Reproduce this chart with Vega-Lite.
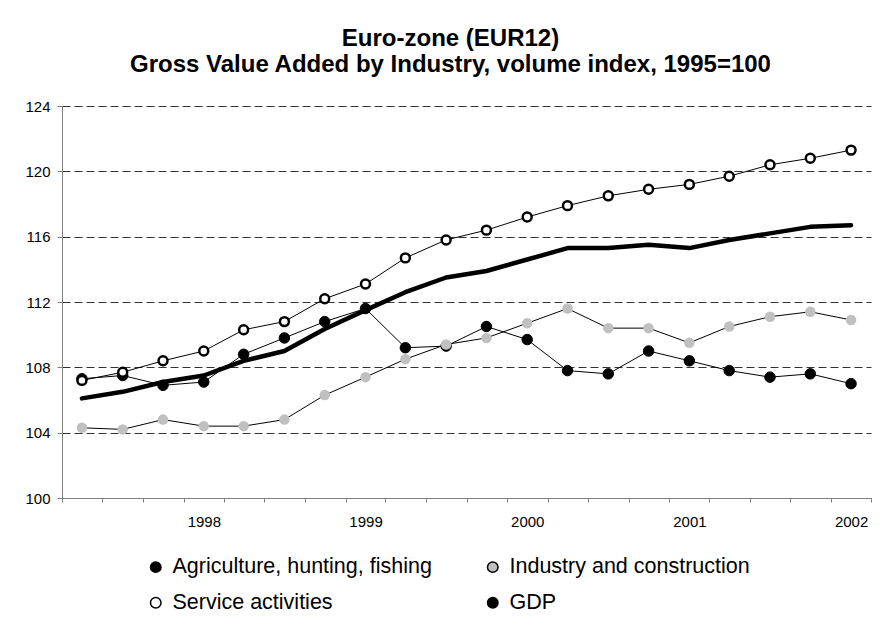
{
  "$schema": "https://vega.github.io/schema/vega-lite/v6.json",
  "width": 809,
  "height": 392,
  "autosize": {"type": "none"},
  "padding": {"left": 62, "top": 106, "right": 21, "bottom": 129},
  "background": "white",
  "config": {"view": {"stroke": null}},
  "title": {
    "text": ["Euro-zone (EUR12)", "Gross Value Added by Industry, volume index, 1995=100"],
    "font": "Liberation Sans", "fontSize": 24, "fontWeight": "bold", "color": "black",
    "lineHeight": 26, "offset": 22, "dx": -16, "anchor": "middle"
  },
  "data": {"values": [
      {"d": "1997-05-16", "s": "Agriculture, hunting, fishing", "v": 107.3},
      {"d": "1997-08-16", "s": "Agriculture, hunting, fishing", "v": 107.5},
      {"d": "1997-11-15", "s": "Agriculture, hunting, fishing", "v": 106.9},
      {"d": "1998-02-15", "s": "Agriculture, hunting, fishing", "v": 107.1},
      {"d": "1998-05-16", "s": "Agriculture, hunting, fishing", "v": 108.8},
      {"d": "1998-08-16", "s": "Agriculture, hunting, fishing", "v": 109.8},
      {"d": "1998-11-15", "s": "Agriculture, hunting, fishing", "v": 110.8},
      {"d": "1999-02-15", "s": "Agriculture, hunting, fishing", "v": 111.6},
      {"d": "1999-05-16", "s": "Agriculture, hunting, fishing", "v": 109.2},
      {"d": "1999-08-16", "s": "Agriculture, hunting, fishing", "v": 109.3},
      {"d": "1999-11-15", "s": "Agriculture, hunting, fishing", "v": 110.5},
      {"d": "2000-02-15", "s": "Agriculture, hunting, fishing", "v": 109.7},
      {"d": "2000-05-16", "s": "Agriculture, hunting, fishing", "v": 107.8},
      {"d": "2000-08-16", "s": "Agriculture, hunting, fishing", "v": 107.6},
      {"d": "2000-11-15", "s": "Agriculture, hunting, fishing", "v": 109.0},
      {"d": "2001-02-15", "s": "Agriculture, hunting, fishing", "v": 108.4},
      {"d": "2001-05-16", "s": "Agriculture, hunting, fishing", "v": 107.8},
      {"d": "2001-08-16", "s": "Agriculture, hunting, fishing", "v": 107.4},
      {"d": "2001-11-15", "s": "Agriculture, hunting, fishing", "v": 107.6},
      {"d": "2002-02-15", "s": "Agriculture, hunting, fishing", "v": 107.0},
      {"d": "1997-05-16", "s": "Industry and construction", "v": 104.3},
      {"d": "1997-08-16", "s": "Industry and construction", "v": 104.2},
      {"d": "1997-11-15", "s": "Industry and construction", "v": 104.8},
      {"d": "1998-02-15", "s": "Industry and construction", "v": 104.4},
      {"d": "1998-05-16", "s": "Industry and construction", "v": 104.4},
      {"d": "1998-08-16", "s": "Industry and construction", "v": 104.8},
      {"d": "1998-11-15", "s": "Industry and construction", "v": 106.3},
      {"d": "1999-02-15", "s": "Industry and construction", "v": 107.4},
      {"d": "1999-05-16", "s": "Industry and construction", "v": 108.5},
      {"d": "1999-08-16", "s": "Industry and construction", "v": 109.4},
      {"d": "1999-11-15", "s": "Industry and construction", "v": 109.8},
      {"d": "2000-02-15", "s": "Industry and construction", "v": 110.7},
      {"d": "2000-05-16", "s": "Industry and construction", "v": 111.6},
      {"d": "2000-08-16", "s": "Industry and construction", "v": 110.4},
      {"d": "2000-11-15", "s": "Industry and construction", "v": 110.4},
      {"d": "2001-02-15", "s": "Industry and construction", "v": 109.5},
      {"d": "2001-05-16", "s": "Industry and construction", "v": 110.5},
      {"d": "2001-08-16", "s": "Industry and construction", "v": 111.1},
      {"d": "2001-11-15", "s": "Industry and construction", "v": 111.4},
      {"d": "2002-02-15", "s": "Industry and construction", "v": 110.9},
      {"d": "1997-05-16", "s": "Service activities", "v": 107.2},
      {"d": "1997-08-16", "s": "Service activities", "v": 107.7},
      {"d": "1997-11-15", "s": "Service activities", "v": 108.4},
      {"d": "1998-02-15", "s": "Service activities", "v": 109.0},
      {"d": "1998-05-16", "s": "Service activities", "v": 110.3},
      {"d": "1998-08-16", "s": "Service activities", "v": 110.8},
      {"d": "1998-11-15", "s": "Service activities", "v": 112.2},
      {"d": "1999-02-15", "s": "Service activities", "v": 113.1},
      {"d": "1999-05-16", "s": "Service activities", "v": 114.7},
      {"d": "1999-08-16", "s": "Service activities", "v": 115.8},
      {"d": "1999-11-15", "s": "Service activities", "v": 116.4},
      {"d": "2000-02-15", "s": "Service activities", "v": 117.2},
      {"d": "2000-05-16", "s": "Service activities", "v": 117.9},
      {"d": "2000-08-16", "s": "Service activities", "v": 118.5},
      {"d": "2000-11-15", "s": "Service activities", "v": 118.9},
      {"d": "2001-02-15", "s": "Service activities", "v": 119.2},
      {"d": "2001-05-16", "s": "Service activities", "v": 119.7},
      {"d": "2001-08-16", "s": "Service activities", "v": 120.4},
      {"d": "2001-11-15", "s": "Service activities", "v": 120.8},
      {"d": "2002-02-15", "s": "Service activities", "v": 121.3},
      {"d": "1997-05-16", "s": "GDP", "v": 106.1},
      {"d": "1997-08-16", "s": "GDP", "v": 106.5},
      {"d": "1997-11-15", "s": "GDP", "v": 107.1},
      {"d": "1998-02-15", "s": "GDP", "v": 107.5},
      {"d": "1998-05-16", "s": "GDP", "v": 108.4},
      {"d": "1998-08-16", "s": "GDP", "v": 109.0},
      {"d": "1998-11-15", "s": "GDP", "v": 110.35},
      {"d": "1999-02-15", "s": "GDP", "v": 111.5},
      {"d": "1999-05-16", "s": "GDP", "v": 112.6},
      {"d": "1999-08-16", "s": "GDP", "v": 113.5},
      {"d": "1999-11-15", "s": "GDP", "v": 113.9},
      {"d": "2000-02-15", "s": "GDP", "v": 114.6},
      {"d": "2000-05-16", "s": "GDP", "v": 115.3},
      {"d": "2000-08-16", "s": "GDP", "v": 115.3},
      {"d": "2000-11-15", "s": "GDP", "v": 115.5},
      {"d": "2001-02-15", "s": "GDP", "v": 115.3},
      {"d": "2001-05-16", "s": "GDP", "v": 115.8},
      {"d": "2001-08-16", "s": "GDP", "v": 116.2},
      {"d": "2001-11-15", "s": "GDP", "v": 116.6},
      {"d": "2002-02-15", "s": "GDP", "v": 116.7}
  ]},
  "encoding": {
    "x": {
      "field": "d", "type": "temporal",
      "scale": {"domain": ["1997-04-01", "2002-04-01"], "nice": false},
      "axis": {
        "title": null,
        "values": ["1997-04-01", "1997-07-01", "1997-10-01", "1998-01-01", "1998-04-01", "1998-07-01", "1998-10-01", "1999-01-01", "1999-04-01", "1999-07-01", "1999-10-01", "2000-01-01", "2000-04-01", "2000-07-01", "2000-10-01", "2001-01-01", "2001-04-01", "2001-07-01", "2001-10-01", "2002-01-01", "2002-04-01"],
        "labelExpr": "month(datum.value) === 0 ? timeFormat(datum.value, '%Y') : ''",
        "labelAngle": 0, "labelFont": "Liberation Sans", "labelFontSize": 15, "labelColor": "black",
        "labelPadding": 12, "labelOverlap": false, "labelOffset": 20, "labelBound": false, "labelFlush": false,
        "tickSize": 4, "tickColor": "#808080", "domainColor": "#808080", "grid": false
      }
    },
    "y": {
      "field": "v", "type": "quantitative",
      "scale": {"domain": [100, 124], "nice": false, "zero": false},
      "axis": {
        "title": null, "values": [100, 104, 108, 112, 116, 120, 124],
        "labelFont": "Liberation Sans", "labelFontSize": 15, "labelColor": "black",
        "tickSize": 5, "tickColor": "#808080", "domainColor": "#808080", "labelPadding": 7,
        "grid": true, "gridColor": "#333333", "gridDash": [8, 4]
      }
    }
  },
  "layer": [
    {
      "transform": [{"filter": "datum.s !== 'GDP'"}],
      "mark": {"type": "line", "color": "black", "strokeWidth": 1},
      "encoding": {"detail": {"field": "s", "type": "nominal"}}
    },
    {
      "transform": [{"filter": "datum.s !== 'GDP'"}],
      "mark": {"type": "point", "filled": true, "opacity": 1, "shape": "circle"},
      "encoding": {
        "fill": {
          "field": "s", "type": "nominal",
          "scale": {
            "domain": ["Agriculture, hunting, fishing", "Industry and construction", "Service activities", "GDP"],
            "range": ["black", "#c0c0c0", "white", "black"]
          },
          "legend": {
            "title": null, "orient": "none", "legendX": 83, "legendY": 450, "columns": 2,
            "direction": "horizontal",
            "columnPadding": 50, "rowPadding": 13, "padding": 0,
            "symbolSize": 110, "labelOffset": 6,
            "symbolStrokeColor": "black", "symbolStrokeWidth": 1.5,
            "labelFont": "Liberation Sans", "labelFontSize": 21.5,
            "labelColor": "black", "labelLimit": 500
          }
        },
        "stroke": {"condition": {"test": "datum.s === 'Industry and construction'", "value": "transparent"}, "value": "black"},
        "strokeWidth": {"condition": {"test": "datum.s === 'Service activities'", "value": 2.5}, "value": 1},
        "size": {"condition": {"test": "datum.s === 'Service activities'", "value": 80}, "value": 110}
      }
    },
    {
      "transform": [{"filter": "datum.s === 'GDP'"}],
      "mark": {"type": "line", "color": "black", "strokeWidth": 4.5, "strokeCap": "round", "strokeJoin": "round"},
      "encoding": {}
    }
  ]
}
